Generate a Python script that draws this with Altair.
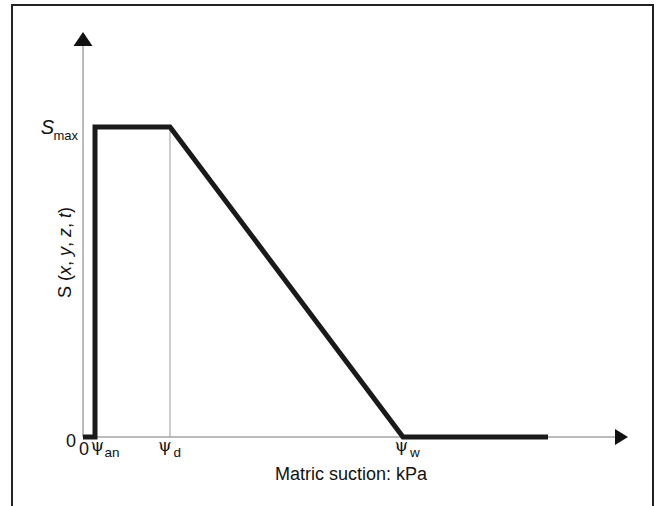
import altair as alt
import pandas as pd

# ---- data (schematic units: x in tenths of the drawing, y with S_max = 1) ----
curve_x = [0.0, 1.2, 1.2, 8.7, 32.0, 46.5]
curve_y = [0.0, 0.0, 1.0, 1.0, 0.0, 0.0]
psi_names = ["an", "d", "w"]
psi_values = [1.2, 8.7, 32.0]
s_max = 1.0
x_axis_end = 53.2       # base of the x arrow
x_arrow_center = 53.85
y_axis_end = 1.2613     # base of the y arrow
y_arrow_center = 1.2839
y_title_parts = ["S (", "x", ", ", "y", ", ", "z", ", ", "t", ")"]
y_title_italic = [False, True, False, True, False, True, False, True, False]
x_title = "Matric suction: kPa"

FONT = "Liberation Sans"
SERIF = "DejaVu Serif"

X = alt.Scale(domain=[-8.3, 57.6], nice=False, zero=False)
Y = alt.Scale(domain=[-0.22258, 1.40968], nice=False, zero=False)


def xq(f="x"):
    return alt.X(f"{f}:Q", scale=X, axis=None)


def yq(f="y"):
    return alt.Y(f"{f}:Q", scale=Y, axis=None)


one = pd.DataFrame({"x": [0.0], "y": [0.0]})
layers = []

# frame (left, top, right)
frame_style = dict(color="#222222", strokeWidth=2)
layers.append(alt.Chart(one).mark_rule(**frame_style).encode(
    x=alt.value(12), y=alt.value(5), y2=alt.value(510)))
layers.append(alt.Chart(one).mark_rule(**frame_style).encode(
    x=alt.value(11), x2=alt.value(654), y=alt.value(5)))
layers.append(alt.Chart(one).mark_rule(**frame_style).encode(
    x=alt.value(653), y=alt.value(5), y2=alt.value(510)))

# axes lines
xaxis = pd.DataFrame({"x": [0.0], "x2": [x_axis_end], "y": [0.0]})
layers.append(alt.Chart(xaxis).mark_rule(color="#777777", strokeWidth=1).encode(
    x=xq(), x2="x2:Q", y=yq()))
yaxis = pd.DataFrame({"x": [0.0], "y": [0.0], "y2": [y_axis_end]})
layers.append(alt.Chart(yaxis).mark_rule(color="#777777", strokeWidth=1).encode(
    x=xq(), y=yq(), y2="y2:Q"))

# psi_d guide
guide = pd.DataFrame({"x": [psi_values[1]], "y": [0.0], "y2": [s_max]})
layers.append(alt.Chart(guide).mark_rule(color="#999999", strokeWidth=1).encode(
    x=xq(), y=yq(), y2="y2:Q"))

# arrowheads
up = pd.DataFrame({"x": [0.0], "y": [y_arrow_center]})
layers.append(alt.Chart(up).mark_point(
    shape="M0,-0.737L1,0.737L-1,0.737Z", size=361, filled=True,
    color="#111111", opacity=1, strokeWidth=0).encode(x=xq(), y=yq()))
right = pd.DataFrame({"x": [x_arrow_center], "y": [0.0]})
layers.append(alt.Chart(right).mark_point(
    shape="M0.8125,0L-0.8125,1L-0.8125,-1Z", size=256, filled=True,
    color="#111111", opacity=1, strokeWidth=0).encode(x=xq(), y=yq()))

# the curve
curve = pd.DataFrame({"x": curve_x, "y": curve_y, "i": range(len(curve_x))})
layers.append(alt.Chart(curve).mark_line(
    color="#1a1a1a", strokeWidth=5, strokeJoin="miter", strokeCap="butt").encode(
    x=xq(), y=yq(), order="i:Q"))

# zero labels
layers.append(alt.Chart(one).mark_text(
    text="0", font=FONT, fontSize=18, align="right", baseline="alphabetic",
    dx=-7, dy=9.5, color="#111111").encode(x=xq(), y=yq()))
layers.append(alt.Chart(one).mark_text(
    text="0", font=FONT, fontSize=18, align="center", baseline="alphabetic",
    dx=1, dy=18, color="#111111").encode(x=xq(), y=yq()))

# S_max label
smax = pd.DataFrame({"x": [0.0], "y": [s_max]})
layers.append(alt.Chart(smax).mark_text(
    text="S", font=FONT, fontSize=20, fontStyle="italic", align="right",
    baseline="alphabetic", dx=-29, dy=6.5, color="#111111").encode(x=xq(), y=yq()))
layers.append(alt.Chart(smax).mark_text(
    text="max", font=FONT, fontSize=13, align="right",
    baseline="alphabetic", dx=-5, dy=13, color="#111111").encode(x=xq(), y=yq()))

# psi labels
psi_dx = [(2.5, 9.5), (-5, 3.5), (-1.5, 7)]
for name, val, (dpsi, dsub) in zip(psi_names, psi_values, psi_dx):
    d = pd.DataFrame({"x": [val], "y": [0.0]})
    layers.append(alt.Chart(d).mark_text(
        text="\u03c8", font=SERIF, fontSize=17, align="center",
        baseline="alphabetic", dx=dpsi, dy=13.5, color="#111111").encode(x=xq(), y=yq()))
    layers.append(alt.Chart(d).mark_text(
        text=name, font=FONT, fontSize=13.5, align="left",
        baseline="alphabetic", dx=dsub, dy=19.5, color="#111111").encode(x=xq(), y=yq()))

# x title
layers.append(alt.Chart(one).mark_text(
    text=x_title, font=FONT, fontSize=18, align="center", baseline="alphabetic",
    color="#111111").encode(x=alt.value(351), y=alt.value(480)))

# y title (rotated, pieces so x, y, z, t are italic)
widths = {"S (": 23.0, "x": 9.0, ", ": 10.0, "y": 9.0, "z": 9.0, "t": 5.0, ")": 6.0}
off = 0.0
for part, ital in zip(y_title_parts, y_title_italic):
    kw = dict(fontStyle="italic") if ital else {}
    layers.append(alt.Chart(one).mark_text(
        text=part, font=FONT, fontSize=18, align="left", baseline="alphabetic",
        angle=270, dx=off, color="#111111", **kw).encode(
        x=alt.value(71), y=alt.value(298)))
    off += widths[part]

chart = alt.layer(*layers).properties(
    width=659, height=506, padding=0, autosize="none", background="white"
).configure_view(stroke=None)

chart.save("out.html", embed_options={"renderer": "svg", "actions": False})
